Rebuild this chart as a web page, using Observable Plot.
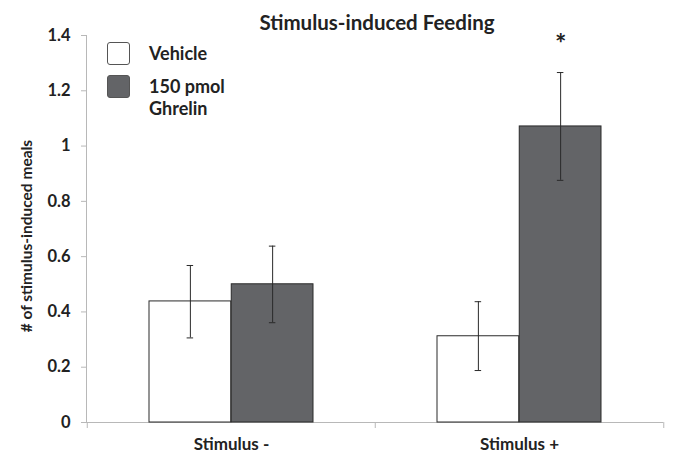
<!DOCTYPE html>
<html>
<head>
<meta charset="utf-8">
<script src="https://cdn.jsdelivr.net/npm/d3@7"></script>
<script src="https://cdn.jsdelivr.net/npm/@observablehq/plot@0.6"></script>
<style>
  html, body { margin: 0; padding: 0; background: #fff; }
  #wrap { position: relative; width: 673px; height: 455px; font-family: Lato, "Open Sans", sans-serif; overflow: hidden; }
  #title { position: absolute; left: 377px; top: 10px; transform: translateX(-50%); white-space: nowrap;
           font-weight: bold; font-size: 20.5px; color: #222; }
  #ylabel { position: absolute; left: 26px; top: 236px; transform: translate(-50%, -50%) rotate(-90deg); white-space: nowrap;
           font-weight: bold; font-size: 15.5px; color: #222; }
  #legend { position: absolute; left: 107px; top: 42px; font-weight: bold; font-size: 18px; color: #222; }
  .row { display: flex; align-items: flex-start; margin-bottom: 10px; }
  .sw { width: 21px; height: 21px; border: 1px solid #555; border-radius: 3px; margin-right: 19px; flex: none; }
  .lbl { line-height: 22px; }
</style>
</head>
<body>
<div id="wrap">
  <div id="chart"></div>
  <div id="title">Stimulus-induced Feeding</div>
  <div id="ylabel"># of stimulus-induced meals</div>
  <div id="legend"></div>
</div>
<script>
const categories = ["Stimulus -", "Stimulus +"];
const groups = ["Vehicle", "150 pmol Ghrelin"];
const groupColors = ["#ffffff", "#636467"];
const vehicleMean = [0.438, 0.312];
const vehicleLow = [0.306, 0.188];
const vehicleHigh = [0.568, 0.437];
const ghrelinMean = [0.500, 1.071];
const ghrelinLow = [0.361, 0.876];
const ghrelinHigh = [0.638, 1.266];
const significance = ["", "*"];
const yTicks = [0, 0.2, 0.4, 0.6, 0.8, 1, 1.2, 1.4];
const yTickLabels = ["0", "0.2", "0.4", "0.6", "0.8", "1", "1.2", "1.4"];

const vehicle = categories.map((c, i) => ({cat: c, mean: vehicleMean[i], lo: vehicleLow[i], hi: vehicleHigh[i]}));
const ghrelin = categories.map((c, i) => ({cat: c, mean: ghrelinMean[i], lo: ghrelinLow[i], hi: ghrelinHigh[i], sig: significance[i]}));

const W = 673, H = 455, ML = 86, MR = 10, MT = 35, MB = 33;
const BW = (W - ML - MR) / categories.length; // band width
const barW = 82.25, gap = 62, capW = 7;
const ink = "#2a2a2a";
const axisGray = "#b8b8b8";

const chart = Plot.plot({
  width: W, height: H,
  marginLeft: ML, marginRight: MR, marginTop: MT, marginBottom: MB,
  style: {fontFamily: "Lato, 'Open Sans', sans-serif", background: "#fff", overflow: "visible"},
  x: {domain: categories, padding: 0},
  y: {domain: [0, 1.4]},
  marks: [
    Plot.frame({anchor: "left", stroke: axisGray}),
    Plot.ruleY([0], {stroke: axisGray}),
    Plot.ruleX(categories, {x: d => d, y1: 0, y2: 0, dx: -BW / 2, insetBottom: -6, stroke: axisGray}),
    Plot.ruleX(categories.slice(-1), {x: d => d, y1: 0, y2: 0, dx: BW / 2, insetBottom: -6, stroke: axisGray}),
    Plot.axisY({ticks: yTicks, tickFormat: d => yTickLabels[yTicks.indexOf(d)], tickSize: 5, tickPadding: 11,
      stroke: axisGray, fill: "#222", fontSize: 16.5, fontWeight: "bold", label: null}),
    Plot.axisX({tickSize: 0, tickPadding: 15, fontSize: 17, fontWeight: "bold", fill: "#222", label: null}),
    Plot.barY(vehicle, {x: "cat", y: "mean", fill: groupColors[0], stroke: ink, strokeWidth: 1,
      insetLeft: gap, insetRight: BW - gap - barW}),
    Plot.barY(ghrelin, {x: "cat", y: "mean", fill: groupColors[1], stroke: ink, strokeWidth: 1,
      insetLeft: gap + barW, insetRight: BW - gap - 2 * barW}),
    Plot.ruleX(vehicle, {x: "cat", y1: "lo", y2: "hi", dx: -barW / 2, stroke: ink}),
    Plot.ruleX(ghrelin, {x: "cat", y1: "lo", y2: "hi", dx: barW / 2, stroke: ink}),
    Plot.tickY(vehicle, {x: "cat", y: "hi", stroke: ink, insetLeft: gap + barW / 2 - capW / 2, insetRight: BW - gap - barW / 2 - capW / 2}),
    Plot.tickY(vehicle, {x: "cat", y: "lo", stroke: ink, insetLeft: gap + barW / 2 - capW / 2, insetRight: BW - gap - barW / 2 - capW / 2}),
    Plot.tickY(ghrelin, {x: "cat", y: "hi", stroke: ink, insetLeft: gap + 1.5 * barW - capW / 2, insetRight: BW - gap - 1.5 * barW - capW / 2}),
    Plot.tickY(ghrelin, {x: "cat", y: "lo", stroke: ink, insetLeft: gap + 1.5 * barW - capW / 2, insetRight: BW - gap - 1.5 * barW - capW / 2}),
    Plot.text(ghrelin, {x: "cat", y: d => 1.4, text: "sig", dx: barW / 2, dy: 9, fontSize: 27, fontWeight: "bold", fill: "#222"})
  ]
});
document.getElementById("chart").appendChild(chart);

const legend = document.getElementById("legend");
const legendLabels = ["Vehicle", "150 pmol<br>Ghrelin"];
groups.forEach((g, i) => {
  const row = document.createElement("div");
  row.className = "row";
  row.innerHTML = `<div class="sw" style="background:${groupColors[i]}"></div><div class="lbl">${legendLabels[i]}</div>`;
  legend.appendChild(row);
});
</script>
</body>
</html>
